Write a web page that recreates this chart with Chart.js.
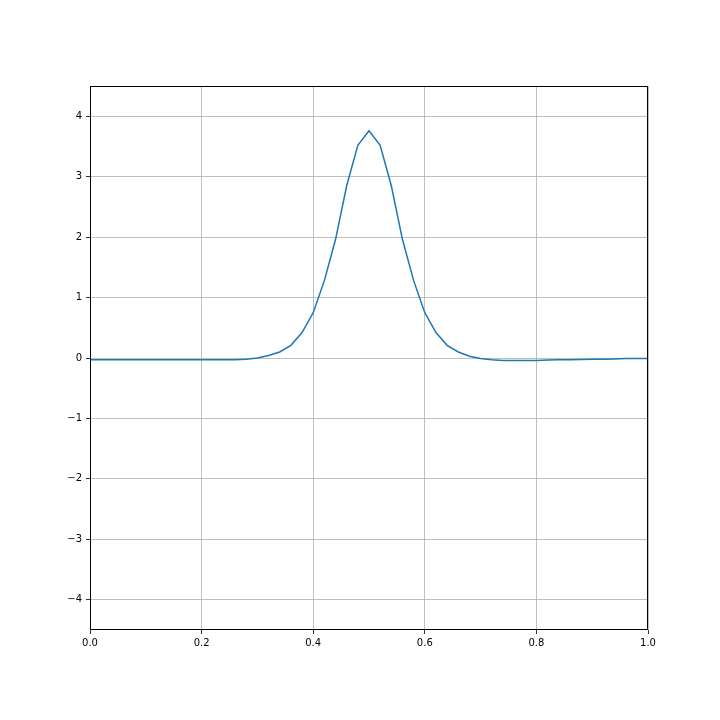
<!DOCTYPE html>
<html>
<head>
<meta charset="utf-8">
<script src="https://cdn.jsdelivr.net/npm/chart.js@4/dist/chart.umd.min.js"></script>
<style>
  html, body { margin: 0; padding: 0; background: #fff; }
</style>
</head>
<body>
<canvas id="myChart" width="720" height="720"></canvas>
<script>
// sample positions and curve values
const xs = [
  0.00, 0.02, 0.04, 0.06, 0.08, 0.10, 0.12, 0.14, 0.16, 0.18,
  0.20, 0.22, 0.24, 0.26, 0.28, 0.30, 0.32, 0.34, 0.36, 0.38,
  0.40, 0.42, 0.44, 0.46, 0.48, 0.50, 0.52, 0.54, 0.56, 0.58,
  0.60, 0.62, 0.64, 0.66, 0.68, 0.70, 0.72, 0.74, 0.76, 0.78,
  0.80, 0.82, 0.84, 0.86, 0.88, 0.90, 0.92, 0.94, 0.96, 0.98, 1.00
];
const ys = [
  -0.03, -0.03, -0.03, -0.03, -0.03, -0.03, -0.03, -0.03, -0.03, -0.03,
  -0.03, -0.03, -0.03, -0.03, -0.02, 0.00, 0.04, 0.10, 0.21, 0.42,
  0.75, 1.28, 1.96, 2.85, 3.52, 3.76, 3.52, 2.85, 1.96, 1.28,
  0.75, 0.42, 0.21, 0.10, 0.03, -0.01, -0.03, -0.04, -0.04, -0.04,
  -0.04, -0.035, -0.03, -0.03, -0.025, -0.02, -0.02, -0.015, -0.01, -0.01, -0.01
];
const yTicks = [-4, -3, -2, -1, 0, 1, 2, 3, 4];
const xTicks = [0.0, 0.2, 0.4, 0.6, 0.8, 1.0];

const fmtMinus = (v) => (v < 0 ? "\u2212" + Math.abs(v) : String(v));

// matplotlib-like frame on all four sides
const frame = {
  id: "frame",
  afterDraw(chart) {
    const a = chart.chartArea;
    const c = chart.ctx;
    c.save();
    c.strokeStyle = "#000";
    c.lineWidth = 1;
    c.strokeRect(a.left + 0.5, a.top + 0.5, a.right - a.left - 1, a.bottom - a.top - 1);
    c.restore();
  }
};

const ctx = document.getElementById("myChart").getContext("2d");
new Chart(ctx, {
  type: "line",
  data: {
    datasets: [{
      data: xs.map((x, i) => ({ x: x, y: ys[i] })),
      borderColor: "#1f77b4",
      borderWidth: 1.5,
      pointRadius: 0,
      tension: 0,
      fill: false
    }]
  },
  options: {
    responsive: false,
    animation: false,
    layout: { padding: { left: 0, top: 86, right: 72, bottom: 0 } },
    plugins: { legend: { display: false }, tooltip: { enabled: false } },
    scales: {
      x: {
        type: "linear",
        min: 0, max: 1,
        afterBuildTicks: (s) => { s.ticks = xTicks.map(v => ({ value: v })); },
        afterFit: (s) => { s.height = 90; },
        grid: { color: "#b0b0b0", tickColor: "#000", tickLength: 4, lineWidth: 0.8 },
        border: { display: false },
        ticks: {
          color: "#000",
          padding: 3,
          maxRotation: 0,
          font: { family: "DejaVu Sans", size: 10 },
          callback: (v) => v.toFixed(1)
        }
      },
      y: {
        type: "linear",
        min: -4.5, max: 4.5,
        afterBuildTicks: (s) => { s.ticks = yTicks.map(v => ({ value: v })); },
        afterFit: (s) => { s.width = 90; },
        grid: { color: "#b0b0b0", tickColor: "#000", tickLength: 4, lineWidth: 0.8 },
        border: { display: false },
        ticks: {
          color: "#000",
          padding: 4,
          font: { family: "DejaVu Sans", size: 10 },
          callback: (v) => fmtMinus(v)
        }
      }
    }
  },
  plugins: [frame]
});
</script>
</body>
</html>
